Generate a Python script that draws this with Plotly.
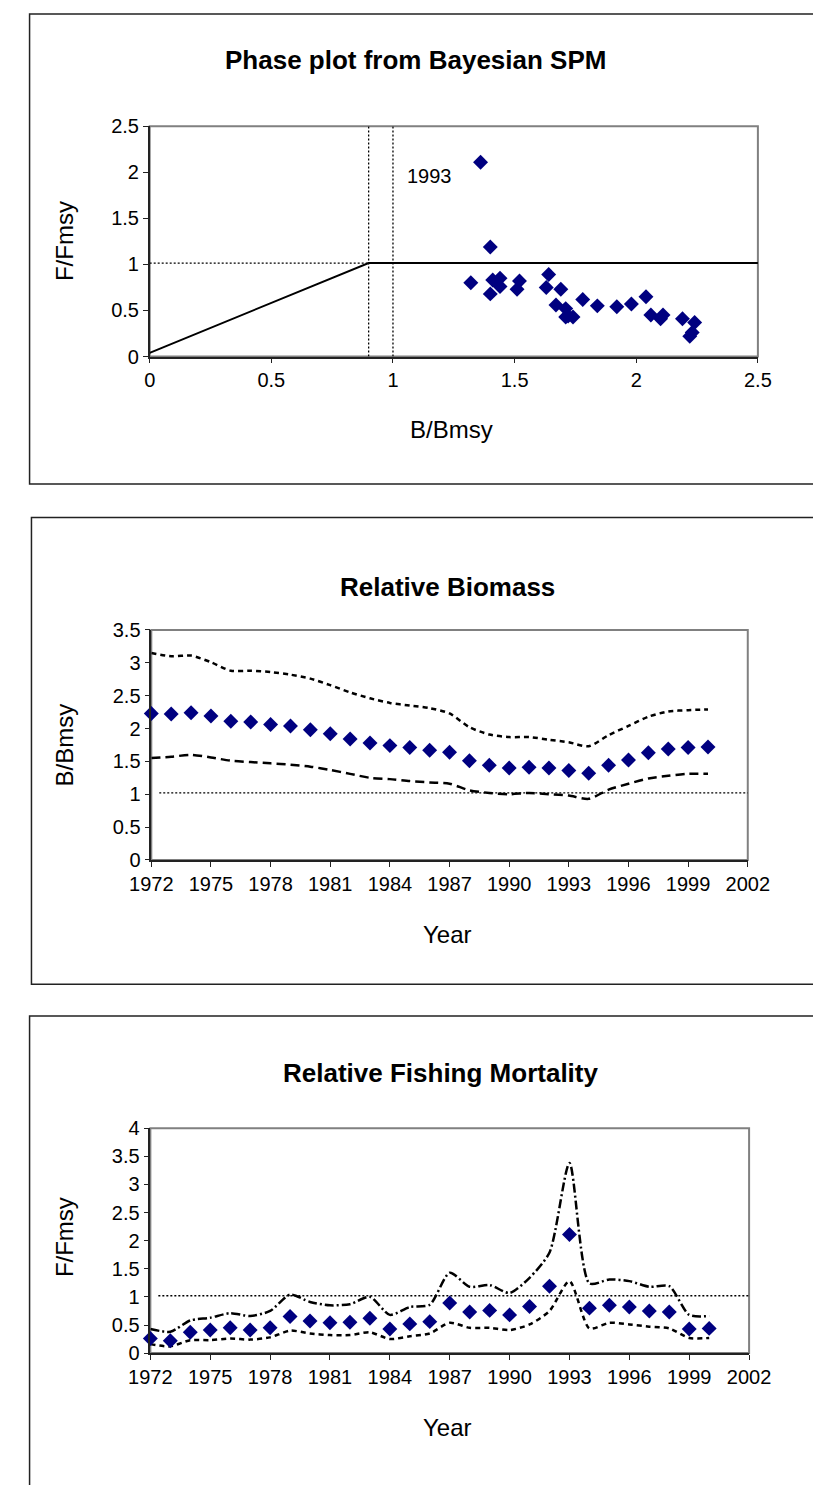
import plotly.graph_objects as go

years = list(range(1972, 2001))
b_mid = [2.23, 2.22, 2.24, 2.19, 2.11, 2.10, 2.06, 2.04, 1.98, 1.92, 1.84, 1.78, 1.74, 1.71, 1.67,
         1.64, 1.51, 1.44, 1.40, 1.41, 1.40, 1.36, 1.32, 1.44, 1.52, 1.63, 1.69, 1.71, 1.72]
b_upper = [3.15, 3.10, 3.11, 3.01, 2.88, 2.88, 2.86, 2.82, 2.76, 2.66, 2.55, 2.46, 2.39, 2.35, 2.31,
           2.23, 2.02, 1.91, 1.87, 1.87, 1.83, 1.79, 1.73, 1.90, 2.04, 2.18, 2.26, 2.28, 2.29]
b_lower = [1.55, 1.57, 1.60, 1.56, 1.51, 1.49, 1.47, 1.45, 1.42, 1.37, 1.31, 1.25, 1.23, 1.20, 1.18,
           1.16, 1.06, 1.02, 1.00, 1.02, 1.00, 0.98, 0.93, 1.07, 1.16, 1.24, 1.28, 1.31, 1.31]
f_mid = [0.26, 0.22, 0.37, 0.41, 0.45, 0.41, 0.45, 0.65, 0.57, 0.54, 0.55, 0.62, 0.43, 0.52, 0.56,
         0.89, 0.73, 0.76, 0.68, 0.83, 1.19, 2.11, 0.80, 0.85, 0.82, 0.75, 0.73, 0.43, 0.44]
f_upper = [0.43, 0.38, 0.58, 0.63, 0.71, 0.66, 0.75, 1.04, 0.91, 0.85, 0.87, 1.00, 0.68, 0.82, 0.86,
           1.43, 1.18, 1.21, 1.07, 1.34, 1.79, 3.38, 1.24, 1.31, 1.28, 1.18, 1.19, 0.68, 0.66]
f_lower = [0.16, 0.12, 0.23, 0.23, 0.26, 0.24, 0.28, 0.40, 0.35, 0.32, 0.32, 0.37, 0.25, 0.30, 0.35,
           0.54, 0.45, 0.45, 0.41, 0.51, 0.75, 1.28, 0.44, 0.54, 0.51, 0.47, 0.44, 0.27, 0.27]

ref_x = [0.0, 0.9, 2.52]
ref_y = [0.04, 1.015, 1.015]
b_lim = [0.9, 1.0]
ref_level = 1.02
year_ticks = list(range(1972, 2003, 3))
phase_ticks = [0, 0.5, 1, 1.5, 2, 2.5]
phase_labels = ["0", "0.5", "1", "1.5", "2", "2.5"]

W, H = 813, 1485
FONT = "Liberation Sans, Arial, sans-serif"
NAVY = "#000080"
MS = 11.5
DOT = dict(color="black", width=1.3, dash="2px,2px")


def px(x):
    return x / W


def py(y):
    return 1 - y / H


fig = go.Figure()

# Panel 1: phase plot
fig.add_trace(go.Scatter(x=[0, b_lim[0]], y=[ref_y[1], ref_y[1]], mode="lines",
                         line=DOT, xaxis="x", yaxis="y"))
for bl in b_lim:
    fig.add_trace(go.Scatter(x=[bl, bl], y=[0, 2.5], mode="lines", line=DOT, xaxis="x", yaxis="y"))
fig.add_trace(go.Scatter(x=ref_x, y=ref_y, mode="lines", line=dict(color="black", width=2),
                         xaxis="x", yaxis="y", cliponaxis=False))
fig.add_trace(go.Scatter(x=b_mid, y=f_mid, mode="markers", text=years,
                         marker=dict(symbol="diamond", size=MS, color=NAVY),
                         xaxis="x", yaxis="y", cliponaxis=False))

# Panel 2: relative biomass
fig.add_trace(go.Scatter(x=[1972.4, 2002], y=[ref_level, ref_level], mode="lines",
                         line=DOT, xaxis="x2", yaxis="y2"))
fig.add_trace(go.Scatter(x=years, y=b_upper, mode="lines",
                         line=dict(color="black", width=2.5, dash="5px,4px", shape="spline", smoothing=0.7),
                         xaxis="x2", yaxis="y2"))
fig.add_trace(go.Scatter(x=years, y=b_lower, mode="lines",
                         line=dict(color="black", width=2.5, dash="9px,5px", shape="spline", smoothing=0.7),
                         xaxis="x2", yaxis="y2"))
fig.add_trace(go.Scatter(x=years, y=b_mid, mode="markers", marker=dict(symbol="diamond", size=MS, color=NAVY),
                         xaxis="x2", yaxis="y2", cliponaxis=False))

# Panel 3: relative fishing mortality
fig.add_trace(go.Scatter(x=[1972.4, 2002], y=[ref_level, ref_level], mode="lines",
                         line=DOT, xaxis="x3", yaxis="y3"))
fig.add_trace(go.Scatter(x=years, y=f_upper, mode="lines",
                         line=dict(color="black", width=2.5, dash="9px,3px,2px,3px", shape="spline", smoothing=0.7),
                         xaxis="x3", yaxis="y3"))
fig.add_trace(go.Scatter(x=years, y=f_lower, mode="lines",
                         line=dict(color="black", width=2.5, dash="5px,4px", shape="spline", smoothing=0.7),
                         xaxis="x3", yaxis="y3"))
fig.add_trace(go.Scatter(x=years, y=f_mid, mode="markers", marker=dict(symbol="diamond", size=MS, color=NAVY),
                         xaxis="x3", yaxis="y3", cliponaxis=False))

ax_common = dict(showgrid=False, zeroline=False, showline=True, linecolor="#222", linewidth=1.5,
                 ticks="outside", ticklen=5, tickcolor="#222",
                 tickfont=dict(size=20, family=FONT, color="black"))

fig.update_layout(
    width=W, height=H, margin=dict(l=0, r=0, t=0, b=0),
    paper_bgcolor="white", plot_bgcolor="white", showlegend=False,
    font=dict(family=FONT, color="black"),
    xaxis=dict(ax_common, domain=[px(135), px(778)], range=[0, 2.5], tickvals=phase_ticks,
               ticktext=phase_labels, anchor="y"),
    yaxis=dict(ax_common, domain=[py(350.7), py(117)], range=[0, 2.5], tickvals=phase_ticks,
               ticktext=phase_labels, anchor="x"),
    xaxis2=dict(ax_common, domain=[px(136.7), px(767.3)], range=[1972, 2002], tickvals=year_ticks, anchor="y2"),
    yaxis2=dict(ax_common, domain=[py(861.7), py(628.3)], range=[0, 3.5], dtick=0.5, anchor="x2"),
    xaxis3=dict(ax_common, domain=[px(135.7), px(768.7)], range=[1972, 2002], tickvals=year_ticks, anchor="y3"),
    yaxis3=dict(ax_common, domain=[py(1362.3), py(1134)], range=[0, 4], dtick=0.5, anchor="x3"),
)

shapes = []
for xa, ya in [("x", "y"), ("x2", "y2"), ("x3", "y3")]:
    shapes.append(dict(type="rect", xref=f"{xa} domain", yref=f"{ya} domain", x0=0, x1=1, y0=0, y1=1,
                       line=dict(color="#808080", width=2), layer="below"))
for top, bottom, left in [(3, 480, 8), (514, 988, 10), (1020, 1560, 8)]:
    shapes.append(dict(type="rect", xref="paper", yref="paper", x0=px(left), x1=px(W + 60),
                       y0=py(bottom), y1=py(top), line=dict(color="#222", width=1.5)))
fig.update_layout(shapes=shapes)

anns = []


def ann(text, x, y, size, bold=False, angle=0):
    anns.append(dict(text=f"<b>{text}</b>" if bold else text, x=px(x), y=py(y), xref="paper", yref="paper",
                     showarrow=False, textangle=angle, font=dict(size=size, family=FONT, color="black"),
                     xanchor="center", yanchor="middle"))


ann("Phase plot from Bayesian SPM", 416, 50, 26, bold=True)
ann("F/Fmsy", 45, 234, 24, angle=-90)
ann("B/Bmsy", 454, 425, 24)
ann("Relative Biomass", 450, 585, 26, bold=True)
ann("B/Bmsy", 45, 745, 24, angle=-90)
ann("Year", 450, 937, 24)
ann("Relative Fishing Mortality", 442, 1078, 26, bold=True)
ann("F/Fmsy", 45, 1245, 24, angle=-90)
ann("Year", 450, 1438, 24)
anns.append(dict(text="1993", x=1.15, y=1.96, xref="x", yref="y", showarrow=False,
                 font=dict(size=20, family=FONT, color="black")))
fig.update_layout(annotations=anns)

fig.write_html("out.html", config={"displayModeBar": False},
               post_script="document.body.style.margin='0';")
